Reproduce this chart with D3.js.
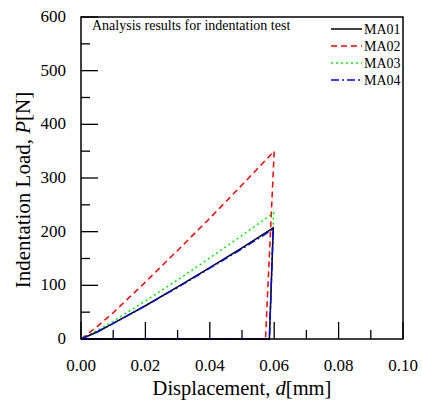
<!DOCTYPE html>
<html>
<head>
<meta charset="utf-8">
<script src="https://cdn.jsdelivr.net/npm/d3@7.9.0/dist/d3.min.js"></script>
<style>
  body { margin: 0; background: #fff; }
  svg { font-family: "Liberation Serif", "Times New Roman", serif; }
</style>
</head>
<body>
<svg width="422" height="400"></svg>
<script>
// displacement [mm] and load [N]
const seriesNames = ['MA01', 'MA02', 'MA03', 'MA04'];
const ma01D = [0, 0.005, 0.01, 0.02, 0.03, 0.04, 0.05, 0.0597, 0.0585, 0];
const ma01P = [0, 13, 29, 62, 97, 133, 170, 207, 0, 0];
const ma02D = [0, 0.005, 0.01, 0.02, 0.03, 0.04, 0.05, 0.0600, 0.0573, 0];
const ma02P = [0, 23, 49, 106, 165, 225, 287, 350, 0, 0];
const ma03D = [0, 0.005, 0.01, 0.02, 0.03, 0.04, 0.05, 0.0598, 0.0585, 0];
const ma03P = [0, 16, 33, 71, 110, 151, 193, 235, 0, 0];
const ma04D = [0, 0.005, 0.01, 0.02, 0.03, 0.04, 0.05, 0.0597, 0.0585, 0];
const ma04P = [0, 13, 29, 62, 96, 132, 168, 205, 0, 0];
const xTicks = [0, 0.02, 0.04, 0.06, 0.08, 0.10];
const yTicks = [0, 100, 200, 300, 400, 500, 600];

const colors = ['#000000', '#ff0000', '#00ee00', '#0000ff'];
const dashes = [null, '6,4', '2,3', '8,3,2,3'];

const svg = d3.select('svg');
const pl = 81, pr = 403, pt = 17, pb = 339;
const x = d3.scaleLinear().domain([0, 0.1]).range([pl, pr]);
const y = d3.scaleLinear().domain([0, 600]).range([pb, pt]);

// inward ticks, major + minor
const g = svg.append('g');
d3.range(0, 0.1001, 0.01).forEach((v, i) => {
  const len = i % 2 === 0 ? 17 : 9;
  g.append('line').attr('x1', x(v)).attr('x2', x(v))
    .attr('y1', pb).attr('y2', pb - len)
    .attr('stroke', '#000').attr('stroke-width', 1.3);
});
d3.range(0, 601, 50).forEach((v, i) => {
  const len = i % 2 === 0 ? 17 : 9;
  g.append('line').attr('x1', pl).attr('x2', pl + len)
    .attr('y1', y(v)).attr('y2', y(v))
    .attr('stroke', '#000').attr('stroke-width', 1.3);
});

g.selectAll('.xl').data(xTicks).enter().append('text')
  .attr('x', d => x(d)).attr('y', 371)
  .attr('text-anchor', 'middle').attr('font-size', 17)
  .text(d => d.toFixed(2));
g.selectAll('.yl').data(yTicks).enter().append('text')
  .attr('x', 66).attr('y', d => y(d) + 5)
  .attr('text-anchor', 'end').attr('font-size', 17)
  .text(d => d);

// titles
svg.append('text').attr('x', 242).attr('y', 395)
  .attr('text-anchor', 'middle').attr('font-size', 20.5)
  .html('Displacement, <tspan font-style="italic">d</tspan>[mm]');
svg.append('text').attr('transform', 'translate(30,190) rotate(-90)')
  .attr('text-anchor', 'middle').attr('font-size', 21)
  .html('Indentation Load, <tspan font-style="italic">P</tspan>[N]');

// curves
const allD = [ma01D, ma02D, ma03D, ma04D];
const allP = [ma01P, ma02P, ma03P, ma04P];
const line = d3.line().x(d => x(d[0])).y(d => y(d[1]));
[1, 2, 0, 3].forEach(i => {
  const pts = allD[i].map((d, k) => [d, allP[i][k]]);
  svg.append('path').attr('d', line(pts))
    .attr('fill', 'none').attr('stroke', colors[i])
    .attr('stroke-width', 1.5)
    .attr('stroke-dasharray', dashes[i]);
});

// frame
svg.append('rect').attr('x', pl).attr('y', pt)
  .attr('width', pr - pl).attr('height', pb - pt)
  .attr('fill', 'none').attr('stroke', '#000').attr('stroke-width', 1.5);

svg.append('text').attr('x', 92).attr('y', 30).attr('font-size', 14)
  .text('Analysis results for indentation test');

// legend
seriesNames.forEach((name, i) => {
  const ly = 29 + i * 17;
  svg.append('line').attr('x1', 331).attr('x2', 362)
    .attr('y1', ly).attr('y2', ly)
    .attr('stroke', colors[i]).attr('stroke-width', 1.5)
    .attr('stroke-dasharray', dashes[i]);
  svg.append('text').attr('x', 364).attr('y', ly + 5)
    .attr('font-size', 14).text(name);
});
</script>
</body>
</html>
